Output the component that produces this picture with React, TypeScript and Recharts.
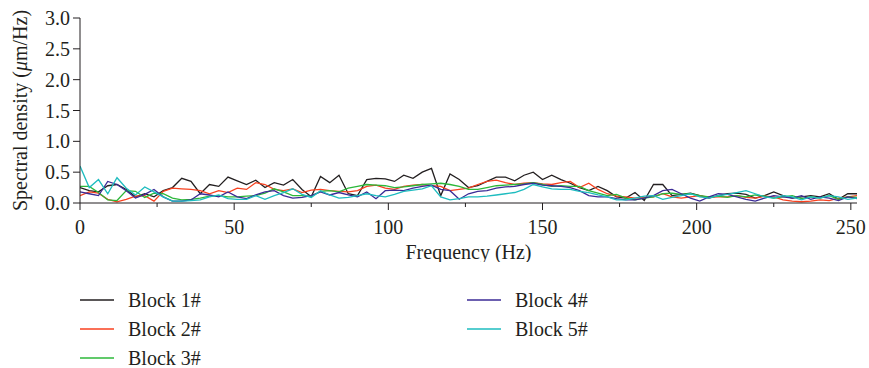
import React from "react";
import { LineChart, Line, XAxis, YAxis, Label } from "recharts";

// spectra sampled every 3 Hz, 0..252 Hz
const FREQ_STEP = 3;

const BLOCK1 = [
  0.25, 0.2, 0.18, 0.28, 0.3, 0.22, 0.1, 0.15, 0.1, 0.2,
  0.25, 0.4, 0.35, 0.15, 0.3, 0.27, 0.42, 0.36, 0.3, 0.37,
  0.25, 0.33, 0.29, 0.38, 0.22, 0.1, 0.43, 0.33, 0.45, 0.15,
  0.12, 0.38, 0.4, 0.39, 0.35, 0.45, 0.4, 0.5, 0.56, 0.12,
  0.47, 0.38, 0.25, 0.28, 0.35, 0.42, 0.42, 0.36, 0.45, 0.5,
  0.38, 0.45, 0.38, 0.32, 0.25, 0.2, 0.27, 0.2, 0.1, 0.08,
  0.17, 0.04, 0.3, 0.3, 0.12, 0.14, 0.16, 0.12, 0.08, 0.12,
  0.15, 0.16, 0.14, 0.08, 0.12, 0.18, 0.12, 0.08, 0.1, 0.12,
  0.1, 0.15, 0.06, 0.15, 0.15,
];
const BLOCK2 = [
  0.12, 0.18, 0.16, 0.06, 0.02, 0.06, 0.11, 0.12, 0.03, 0.19,
  0.24, 0.23, 0.22, 0.2, 0.15, 0.2, 0.17, 0.24, 0.22, 0.33,
  0.3, 0.22, 0.2, 0.23, 0.17, 0.21, 0.22, 0.2, 0.19, 0.18,
  0.2, 0.27, 0.29, 0.24, 0.22, 0.27, 0.29, 0.3, 0.28, 0.27,
  0.2, 0.22, 0.24, 0.3, 0.35, 0.37, 0.33, 0.3, 0.32, 0.33,
  0.31, 0.3, 0.33, 0.35, 0.25, 0.32, 0.22, 0.15, 0.11, 0.1,
  0.08, 0.09, 0.1, 0.15, 0.1, 0.08, 0.1, 0.12, 0.09, 0.1,
  0.1, 0.12, 0.09, 0.08, 0.11, 0.1, 0.05, 0.03, 0.02, 0.03,
  0.05, 0.04, 0.08, 0.1, 0.12,
];
const BLOCK3 = [
  0.27, 0.27, 0.17, 0.05, 0.04, 0.2, 0.19, 0.09, 0.16, 0.15,
  0.08, 0.05, 0.06, 0.08, 0.11, 0.12, 0.1, 0.1, 0.11, 0.12,
  0.16, 0.23, 0.18, 0.12, 0.12, 0.11, 0.19, 0.2, 0.18, 0.24,
  0.27, 0.3, 0.29, 0.28, 0.25, 0.26, 0.28, 0.3, 0.31, 0.32,
  0.3, 0.27, 0.22, 0.22, 0.25, 0.28, 0.29, 0.3, 0.31, 0.33,
  0.3, 0.27, 0.28, 0.27, 0.27, 0.2, 0.16, 0.12, 0.14, 0.08,
  0.05, 0.08, 0.1, 0.15, 0.16, 0.14, 0.15, 0.12, 0.1, 0.11,
  0.09, 0.12, 0.1, 0.13, 0.11, 0.08, 0.1, 0.12, 0.07, 0.1,
  0.08, 0.12, 0.06, 0.1, 0.09,
];
const BLOCK4 = [
  0.18, 0.15, 0.12, 0.35, 0.3, 0.2, 0.08, 0.14, 0.22, 0.1,
  0.03, 0.03, 0.05, 0.15, 0.13, 0.1, 0.18, 0.1, 0.07, 0.13,
  0.18, 0.2, 0.12, 0.08, 0.09, 0.12, 0.18, 0.13, 0.17, 0.13,
  0.1, 0.18, 0.07, 0.2, 0.21, 0.2, 0.24, 0.27, 0.29, 0.22,
  0.2, 0.06, 0.15, 0.19, 0.2, 0.24, 0.26, 0.27, 0.3, 0.32,
  0.29, 0.28, 0.27, 0.25, 0.2, 0.12, 0.1, 0.1, 0.07, 0.05,
  0.05, 0.08, 0.12, 0.2, 0.22, 0.15, 0.08, 0.03, 0.1, 0.15,
  0.14, 0.1, 0.06, 0.03, 0.08, 0.12, 0.1, 0.08, 0.12, 0.06,
  0.1, 0.08, 0.04, 0.1, 0.07,
];
const BLOCK5 = [
  0.6, 0.25, 0.38, 0.15, 0.41, 0.24, 0.13, 0.26, 0.18, 0.1,
  0.03, 0.03, 0.04, 0.05, 0.1, 0.13, 0.07, 0.06, 0.06, 0.12,
  0.06, 0.12, 0.17, 0.23, 0.14, 0.09, 0.2, 0.13, 0.08, 0.09,
  0.12, 0.15, 0.12, 0.1, 0.14, 0.19, 0.21, 0.23, 0.28, 0.1,
  0.05, 0.07, 0.1, 0.1, 0.11, 0.13, 0.15, 0.17, 0.22, 0.3,
  0.26, 0.23, 0.22, 0.22, 0.19, 0.17, 0.13, 0.1, 0.05, 0.05,
  0.08, 0.11, 0.12, 0.06, 0.09, 0.12, 0.15, 0.1, 0.08, 0.12,
  0.14, 0.17, 0.2, 0.15, 0.1, 0.08, 0.12, 0.1, 0.05, 0.1,
  0.08, 0.12, 0.1, 0.06, 0.08,
];

const SERIES = [
  { key: "b1", name: "Block 1#", color: "#231f20", values: BLOCK1 },
  { key: "b2", name: "Block 2#", color: "#f8411f", values: BLOCK2 },
  { key: "b3", name: "Block 3#", color: "#2cb83a", values: BLOCK3 },
  { key: "b4", name: "Block 4#", color: "#3b2b96", values: BLOCK4 },
  { key: "b5", name: "Block 5#", color: "#1ebcbf", values: BLOCK5 },
];

const X_TICKS = [0, 25, 50, 75, 100, 125, 150, 175, 200, 225, 250];
const Y_TICKS = [0, 0.25, 0.5, 0.75, 1, 1.25, 1.5, 1.75, 2, 2.25, 2.5, 2.75, 3];

const data = BLOCK1.map((_, i) => {
  const row: Record<string, number> = { f: i * FREQ_STEP };
  SERIES.forEach((s) => (row[s.key] = s.values[i]));
  return row;
});

const INK = "#231f20";
const FONT = "'Liberation Serif', 'Times New Roman', serif";
const FS = 20;

function XTick({ x, y, payload }: any) {
  const major = payload.value % 50 === 0;
  return (
    <g>
      <line x1={x} x2={x} y1={y} y2={y + (major ? 7 : 4)} stroke={INK} strokeWidth={1} />
      {major && (
        <text x={x} y={y + 31} textAnchor="middle" fontSize={FS} fontFamily={FONT} fill={INK}>
          {payload.value}
        </text>
      )}
    </g>
  );
}

function YTick({ x, y, payload }: any) {
  const major = Math.round(payload.value * 100) % 50 === 0;
  return (
    <g>
      <line x1={x - (major ? 7 : 4)} x2={x} y1={y} y2={y} stroke={INK} strokeWidth={1} />
      {major && (
        <text x={x - 10} y={y} dy="0.35em" textAnchor="end" fontSize={FS} fontFamily={FONT} fill={INK}>
          {payload.value.toFixed(1)}
        </text>
      )}
    </g>
  );
}

function YLabel({ viewBox }: any) {
  const cy = viewBox.y + viewBox.height / 2;
  return (
    <text
      x={20}
      y={cy}
      transform={`rotate(-90 20 ${cy})`}
      textAnchor="middle"
      dominantBaseline="central"
      fontSize={FS}
      fontFamily={FONT}
      fill={INK}
    >
      Spectral density (<tspan fontStyle="italic">μ</tspan>m/Hz)
    </text>
  );
}

function ChartLegend() {
  const cols = [SERIES.slice(0, 3), SERIES.slice(3)];
  const colX = [80, 467];
  return (
    <svg width={869} height={106} style={{ position: "absolute", left: 0, top: 262 }}>
      {cols.map((col, c) =>
        col.map((s, r) => {
          const y = 38 + r * 29;
          return (
            <g key={s.key}>
              <line x1={colX[c]} x2={colX[c] + 34} y1={y} y2={y} stroke={s.color} strokeWidth={1.5} />
              <text
                x={colX[c] + 48}
                y={y}
                dy="0.35em"
                fontSize={FS}
                fontFamily={FONT}
                fill={INK}
              >
                {s.name}
              </text>
            </g>
          );
        })
      )}
    </svg>
  );
}

export default function App() {
  return (
    <div
      style={{
        position: "absolute",
        left: 0,
        top: 0,
        width: 869,
        height: 368,
        background: "#fff",
        fontFamily: FONT,
      }}
    >
      <LineChart width={869} height={262} data={data} margin={{ top: 18, right: 12, left: 0, bottom: 0 }}>
        <XAxis
          dataKey="f"
          type="number"
          domain={[0, 252]}
          ticks={X_TICKS}
          tick={<XTick />}
          tickLine={false}
          tickSize={0}
          tickMargin={0}
          axisLine={{ stroke: INK }}
          height={59}
          allowDataOverflow
        >
          <Label
            value="Frequency (Hz)"
            position="insideBottom"
            offset={3}
            style={{ fontSize: FS, fontFamily: FONT, fill: INK }}
          />
        </XAxis>
        <YAxis
          type="number"
          domain={[0, 3]}
          ticks={Y_TICKS}
          tick={<YTick />}
          tickLine={false}
          tickSize={0}
          tickMargin={0}
          axisLine={{ stroke: INK }}
          width={80}
          allowDataOverflow
        >
          <Label content={<YLabel />} />
        </YAxis>
        {SERIES.map((s) => (
          <Line
            key={s.key}
            dataKey={s.key}
            name={s.name}
            type="linear"
            stroke={s.color}
            strokeWidth={1.3}
            dot={false}
            isAnimationActive={false}
          />
        ))}
      </LineChart>
      <ChartLegend />
    </div>
  );
}
